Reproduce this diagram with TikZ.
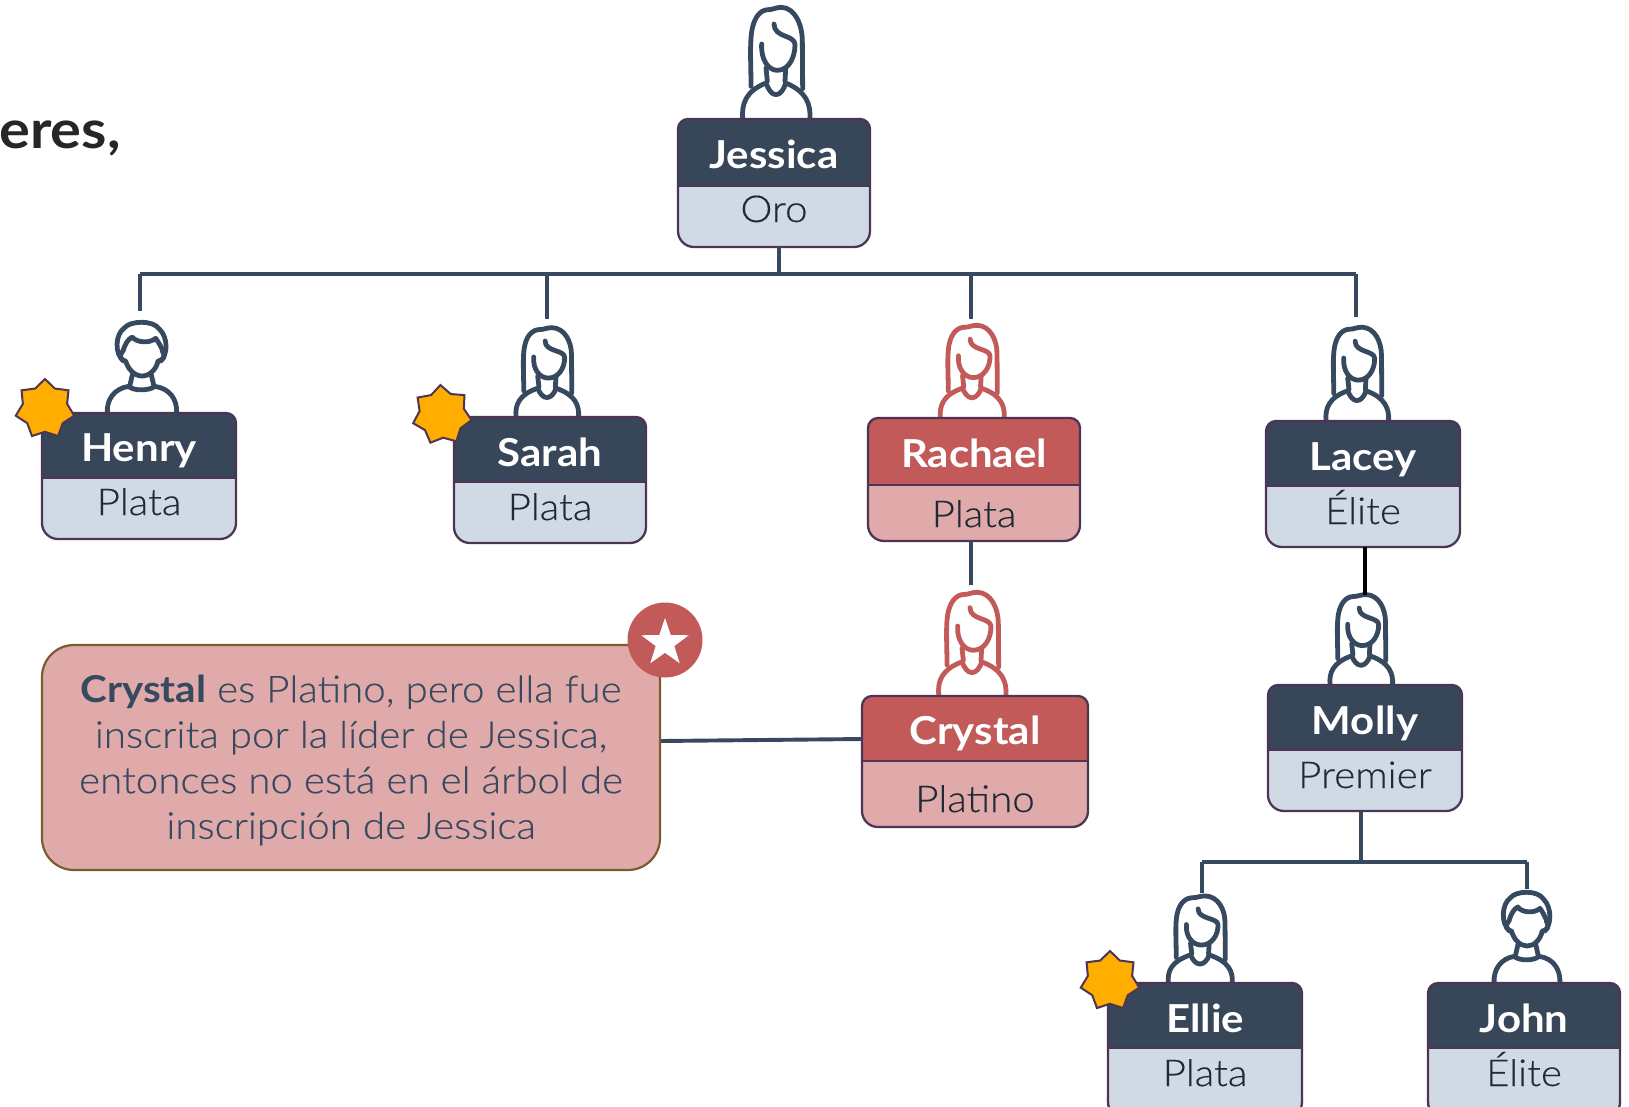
\documentclass[tikz,border=0pt]{standalone}
\usepackage{fontspec}
\usetikzlibrary{shapes.geometric}
\setmainfont{Lato}
\newfontfamily\lightf[FakeStretch=1.09,FakeBold=0.3]{Lato Light}
\newfontfamily\boldf[FakeStretch=1.09]{Lato Bold}
\definecolor{navy}{HTML}{374659}
\definecolor{pale}{HTML}{D0DAE5}
\definecolor{edge}{HTML}{4E3556}
\definecolor{brick}{HTML}{C25A5A}
\definecolor{rose}{HTML}{E0AAAA}
\definecolor{wire}{HTML}{36495E}
\definecolor{amber}{HTML}{FFAE00}
\definecolor{calloutedge}{HTML}{7A5C2E}
\definecolor{ink}{HTML}{1E2A36}
\tikzset{
  wireline/.style={draw=wire,line width=3.9pt},
  personline/.style={line width=4.8pt,line cap=round,line join=round},
  burst/.style={star,star points=7,star point ratio=1.32,minimum size=60pt,inner sep=0pt,fill=amber,draw=edge,line width=2pt},
  titletext/.style={anchor=base,text=white,font=\fontsize{38.5}{38.5}\boldf},
  subtext/.style={anchor=base,text=ink,font=\fontsize{37}{37}\lightf},
  woman/.pic={
    \begin{scope}[x=0.3333pt,y=-0.3333pt,shift={(-408,-353)}]
      \draw[personline,pic actions] (308,352) .. controls (305,310) and (315,270) .. (378,245)
        (437,245) .. controls (500,270) and (512,310) .. (510,352);
      \draw[personline,pic actions] (378,245) .. controls (385,265) and (395,280) .. (408,280) .. controls (420,280) and (432,265) .. (437,245);
      \draw[personline,pic actions] (333,255) .. controls (333,200) and (330,150) .. (333,110) .. controls (337,50) and (360,25) .. (385,25) .. controls (400,25) and (405,18) .. (425,18) .. controls (465,20) and (487,70) .. (487,120) -- (488,262);
      \draw[personline,pic actions] (365,128) .. controls (362,175) and (385,207) .. (412,207) .. controls (445,207) and (465,170) .. (465,130) .. controls (465,100) and (402,110) .. (402,68);
      \draw[personline,pic actions] (378,200) -- (382,240) (437,200) -- (435,240);
    \end{scope}
  },
  man/.pic={
    \begin{scope}[x=0.3333pt,y=-0.3333pt,shift={(-427,-336)}]
      \draw[personline,pic actions] (323,336) .. controls (320,295) and (345,262) .. (387,256) .. controls (400,270) and (450,270) .. (465,256) .. controls (510,262) and (533,295) .. (531,336);
      \draw[personline,pic actions] (398,222) -- (390,256) (455,222) -- (463,256);
      \draw[personline,pic actions] (372,180) .. controls (345,160) and (345,100) .. (375,80) .. controls (390,60) and (460,55) .. (480,85) .. controls (505,110) and (505,160) .. (483,180);
      \draw[personline,pic actions] (370,150) .. controls (378,125) and (385,115) .. (398,108) .. controls (410,125) and (450,128) .. (468,112) .. controls (478,125) and (485,140) .. (490,150);
      \draw[personline,pic actions] (368,152) .. controls (355,165) and (365,180) .. (378,180) .. controls (385,205) and (405,225) .. (427,225) .. controls (450,225) and (470,205) .. (475,180) .. controls (490,180) and (500,165) .. (488,150);
    \end{scope}
  }
}
% name, x1, y1, x2, divider, y2, header fill, body fill, title, then title baseline, sub, sub baseline
\newcommand{\personcard}[9]{%
  \pgfmathsetmacro{\cw}{#4-#2}\pgfmathsetmacro{\ch}{#6-#3}%
  \pgfmathsetmacro{\cx}{(#2+#4)/2}\pgfmathsetmacro{\cy}{(#3+#6)/2}%
  \node[minimum width=\cw pt,minimum height=\ch pt,inner sep=0pt,outer sep=0pt] (#1) at (\cx,\cy) {};
  \fill[#8] (#2,#5) [rounded corners=16pt] -- (#2,#6) -- (#4,#6) [sharp corners] -- (#4,#5) -- cycle;
  \fill[#7] (#2,#5) [rounded corners=10pt] -- (#2,#3) -- (#4,#3) [sharp corners] -- (#4,#5) -- cycle;
  \draw[edge,line width=2.3pt] (#2,#5) -- (#4,#5);
  \draw[edge,line width=2.3pt] (#2,#5) [rounded corners=10pt] -- (#2,#3) -- (#4,#3) [sharp corners] -- (#4,#5) [rounded corners=16pt] -- (#4,#6) -- (#2,#6) [sharp corners] -- cycle;
  \personlabels{#1}{#9}}
\newcommand{\personlabels}[2]{\def\curname{#1}\def\curtitle{#2}\personlabelsB}
\newcommand{\personlabelsB}[3]{%
  \node[titletext] (\curname-title) at (\cx,#1) {\curtitle};
  \node[subtext] (\curname-sub) at (\cx,#3) {#2};}
\begin{document}
\begin{tikzpicture}[x=1pt,y=-1pt]
\clip (0,0) rectangle (1629,1106);
\fill[white] (0,0) rectangle (1629,1106);
\node[anchor=base west,inner sep=0pt,text=black!85,font=\fontsize{53}{53}\boldf] (cut) at (-1,148) {eres,};
% bars
\coordinate (jstem) at (779,274);
\coordinate (barL) at (140,274);
\coordinate (barS) at (547,274);
\coordinate (barR) at (971,274);
\coordinate (barE) at (1356,274);
\coordinate (endH) at (140,311);
\coordinate (endS) at (547,319);
\coordinate (endR) at (971,319);
\coordinate (endE) at (1356,317);
\coordinate (mstem) at (1361,862);
\coordinate (barEl) at (1202,862);
\coordinate (barJo) at (1527,862);
\coordinate (endEl) at (1202,893);
\coordinate (endJo) at (1527,889);
% people
\pic[draw=wire] at (776,119) {woman};
\pic[draw=wire] at (142,413) {man};
\pic[draw=wire,xscale=.93,yscale=.8] at (547,417) {woman};
\pic[draw=brick,xscale=.95,yscale=.83] at (972,418) {woman};
\pic[draw=wire,xscale=.93,yscale=.84] at (1357,421) {woman};
\pic[draw=brick,xscale=1,yscale=.92] at (972,695) {woman};
\pic[draw=wire,xscale=.93,yscale=.81] at (1361,685) {woman};
\pic[draw=wire,xscale=.95,yscale=.78] at (1200,983) {woman};
\pic[draw=wire,xscale=.95,yscale=1] at (1527,983) {man};
% cards
\personcard{jessica}{678}{119}{870}{186}{247}{navy}{pale}{Jessica}{168}{Oro}{222}
\personcard{henry}{42}{413}{236}{478}{539}{navy}{pale}{Henry}{461}{Plata}{515}
\personcard{sarah}{454}{417}{646}{482}{543}{navy}{pale}{Sarah}{466}{Plata}{520}
\personcard{rachael}{868}{418}{1080}{485}{541}{brick}{rose}{Rachael}{467}{Plata}{527}
\personcard{lacey}{1266}{421}{1460}{486}{547}{navy}{pale}{Lacey}{470}{Élite}{524}
\personcard{crystal}{862}{696}{1088}{761}{827}{brick}{rose}{Crystal}{744}{Platino}{812}
\personcard{molly}{1268}{685}{1462}{750}{811}{navy}{pale}{Molly}{734}{Premier}{788}
\personcard{ellie}{1108}{983}{1302}{1048}{1118}{navy}{pale}{Ellie}{1032}{Plata}{1086}
\personcard{john}{1428}{983}{1620}{1048}{1118}{navy}{pale}{John}{1032}{Élite}{1086}
% connectors
\draw[wireline] (barL) -- (barE);
\draw[wireline] (jessica.south -| jstem) -- (jstem);
\draw[wireline] (barL) -- (endH);
\draw[wireline] (barS) -- (endS);
\draw[wireline] (barR) -- (endR);
\draw[wireline] (barE) -- (endE);
\draw[wireline] (rachael.south -| barR) -- ++(0,44);
\draw[draw=black,line width=3.4pt] (lacey.south -| 1365,0) -- ++(0,48);
\draw[wireline] (molly.south -| mstem) -- (mstem);
\draw[wireline] (barEl) -- (barJo);
\draw[wireline] (barEl) -- (endEl);
\draw[wireline] (barJo) -- (endJo);
% stars
\node[burst] (starH) at (45,409) {};
\node[burst,rotate=3] (starS) at (442,415) {};
\node[burst] (starE) at (1110,981) {};
% callout
\node[draw=calloutedge,fill=rose,line width=2.2pt,rounded corners=32pt,minimum width=618pt,minimum height=225pt,inner sep=0pt] (note) at (351,757.5) {};
\node[align=center,text=wire,font=\fontsize{37}{45.5}\lightf] (notetext) at (351,760) {{\boldf Crystal} es Platino, pero ella fue\\inscrita por la líder de Jessica,\\entonces no está en el árbol de\\inscripción de Jessica};
\node[circle,fill=brick,minimum size=75pt,inner sep=0pt] (badge) at (665,640) {};
\node[star,star points=5,star point ratio=2.55,fill=white,minimum size=50pt,inner sep=0pt] (badgestar) at (665,643) {};
\draw[wireline] (note.east |- 0,741) -- (crystal.west |- 0,739);
\end{tikzpicture}
\end{document}
